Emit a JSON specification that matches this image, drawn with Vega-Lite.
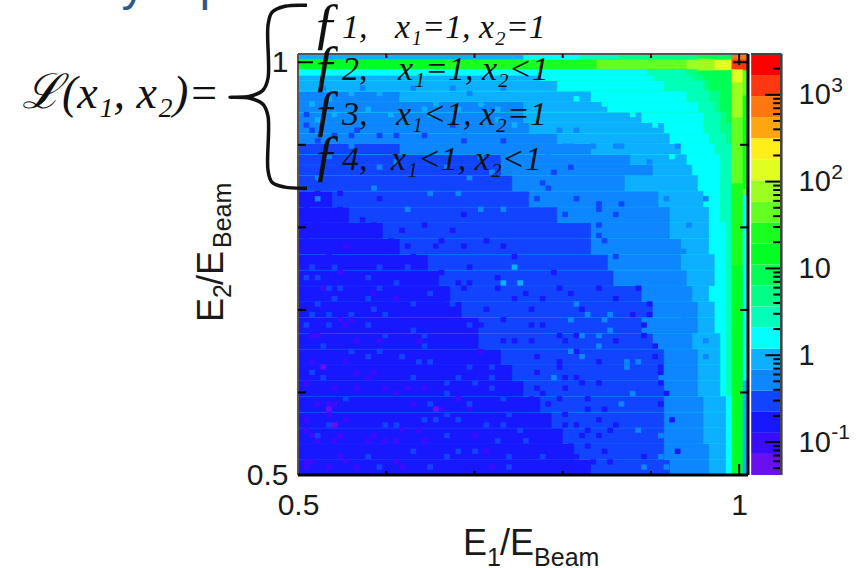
{"$schema":"https://vega.github.io/schema/vega-lite/v6.json","autosize":{"type":"none"},"padding":{"left":298,"top":54,"right":108,"bottom":93},"width":450,"height":421,"background":"white","config":{"axis":{"ticks":false,"domain":false,"grid":false,"labelFont":"Liberation Sans","labelColor":"#1a1a1a"},"view":{"stroke":null}},
"datasets":{
"heat":[
{"b":1.01,"c":0.5,"d":1.01,"v":0.17},
{"b":1.01,"c":0.5,"d":0.615,"v":0.9},{"b":1.01,"c":0.615,"d":0.84,"v":1.6},{"b":1.01,"c":0.84,"d":0.8475,"v":45},{"b":1.01,"c":0.8475,"d":0.96,"v":15},{"b":1.01,"c":0.96,"d":0.9909,"v":45},{"b":1.01,"c":0.9909,"d":1.0036,"v":1274},{"b":1.01,"c":1.0036,"d":1.01,"v":729},
{"b":1.0036,"c":0.5,"d":0.7544,"v":15},{"b":1.0036,"c":0.7544,"d":0.8537,"v":26},{"b":1.0036,"c":0.8537,"d":0.9337,"v":45},{"b":1.0036,"c":0.9337,"d":0.9761,"v":78},{"b":1.0036,"c":0.9761,"d":0.9909,"v":136},
{"b":0.9909,"c":0.5,"d":0.9016,"v":2.7},{"b":0.9909,"c":0.9016,"d":0.9271,"v":4.8},{"b":0.9909,"c":0.9271,"d":0.9909,"v":8.4},{"b":0.9909,"c":0.9909,"d":1.0036,"v":136},{"b":0.9909,"c":1.0036,"d":1.01,"v":8.4},
{"b":0.9718,"c":0.9909,"d":1.0036,"v":78},{"b":0.9399,"c":0.9909,"d":1.0036,"v":45},{"b":0.8379,"c":0.9909,"d":1.0036,"v":26},{"b":0.6658,"c":0.9909,"d":1.0036,"v":15},
{"b":0.9526,"c":1.0036,"d":1.01,"v":4.8},{"b":0.8634,"c":1.0036,"d":1.01,"v":2.7},{"b":0.8188,"c":1.0036,"d":1.01,"v":1.6},{"b":0.755,"c":1.0036,"d":1.01,"v":0.9},
{"b":0.9909,"c":0.5,"d":0.5191,"v":1.6},{"b":0.9845,"c":0.5,"d":0.5191,"v":0.9},{"b":0.9654,"c":0.5,"d":0.5191,"v":0.5},{"b":0.9208,"c":0.5,"d":0.5191,"v":0.29},{"b":0.8315,"c":0.5,"d":0.5191,"v":0.17},
{"b":0.9909,"c":0.5191,"d":0.5383,"v":1.6},{"b":0.9845,"c":0.5191,"d":0.5383,"v":0.9},{"b":0.9654,"c":0.5191,"d":0.5383,"v":0.5},{"b":0.9144,"c":0.5191,"d":0.5383,"v":0.29},{"b":0.8124,"c":0.5191,"d":0.5383,"v":0.17},
{"b":0.9909,"c":0.5383,"d":0.5574,"v":1.6},{"b":0.9845,"c":0.5383,"d":0.5574,"v":0.9},{"b":0.959,"c":0.5383,"d":0.5574,"v":0.5},{"b":0.9144,"c":0.5383,"d":0.5574,"v":0.29},{"b":0.7996,"c":0.5383,"d":0.5574,"v":0.17},
{"b":0.9909,"c":0.5574,"d":0.5765,"v":1.6},{"b":0.9845,"c":0.5574,"d":0.5765,"v":0.9},{"b":0.959,"c":0.5574,"d":0.5765,"v":0.5},{"b":0.9144,"c":0.5574,"d":0.5765,"v":0.29},{"b":0.7869,"c":0.5574,"d":0.5765,"v":0.17},
{"b":0.9909,"c":0.5765,"d":0.5956,"v":1.6},{"b":0.9845,"c":0.5765,"d":0.5956,"v":0.9},{"b":0.959,"c":0.5765,"d":0.5956,"v":0.5},{"b":0.9144,"c":0.5765,"d":0.5956,"v":0.29},{"b":0.7741,"c":0.5765,"d":0.5956,"v":0.17},
{"b":0.9845,"c":0.5956,"d":0.6148,"v":1.6},{"b":0.9781,"c":0.5956,"d":0.6148,"v":0.9},{"b":0.9526,"c":0.5956,"d":0.6148,"v":0.5},{"b":0.9144,"c":0.5956,"d":0.6148,"v":0.29},{"b":0.755,"c":0.5956,"d":0.6148,"v":0.17},
{"b":0.9845,"c":0.6148,"d":0.6339,"v":1.6},{"b":0.9781,"c":0.6148,"d":0.6339,"v":0.9},{"b":0.9526,"c":0.6148,"d":0.6339,"v":0.5},{"b":0.908,"c":0.6148,"d":0.6339,"v":0.29},{"b":0.7423,"c":0.6148,"d":0.6339,"v":0.17},
{"b":0.9845,"c":0.6339,"d":0.653,"v":1.6},{"b":0.9781,"c":0.6339,"d":0.653,"v":0.9},{"b":0.9526,"c":0.6339,"d":0.653,"v":0.5},{"b":0.9144,"c":0.6339,"d":0.653,"v":0.29},{"b":0.7295,"c":0.6339,"d":0.653,"v":0.17},
{"b":0.9845,"c":0.653,"d":0.6721,"v":1.6},{"b":0.9781,"c":0.653,"d":0.6721,"v":0.9},{"b":0.9463,"c":0.653,"d":0.6721,"v":0.5},{"b":0.9016,"c":0.653,"d":0.6721,"v":0.29},{"b":0.704,"c":0.653,"d":0.6721,"v":0.17},
{"b":0.9845,"c":0.6721,"d":0.6913,"v":1.6},{"b":0.9718,"c":0.6721,"d":0.6913,"v":0.9},{"b":0.9526,"c":0.6721,"d":0.6913,"v":0.5},{"b":0.8889,"c":0.6721,"d":0.6913,"v":0.29},{"b":0.704,"c":0.6721,"d":0.6913,"v":0.17},
{"b":0.9845,"c":0.6913,"d":0.7104,"v":1.6},{"b":0.9718,"c":0.6913,"d":0.7104,"v":0.9},{"b":0.9526,"c":0.6913,"d":0.7104,"v":0.5},{"b":0.9016,"c":0.6913,"d":0.7104,"v":0.29},{"b":0.6849,"c":0.6913,"d":0.7104,"v":0.17},
{"b":0.9845,"c":0.7104,"d":0.7295,"v":1.6},{"b":0.9654,"c":0.7104,"d":0.7295,"v":0.9},{"b":0.9463,"c":0.7104,"d":0.7295,"v":0.5},{"b":0.8889,"c":0.7104,"d":0.7295,"v":0.29},{"b":0.6721,"c":0.7104,"d":0.7295,"v":0.17},
{"b":0.9845,"c":0.7295,"d":0.7486,"v":1.6},{"b":0.9718,"c":0.7295,"d":0.7486,"v":0.9},{"b":0.9399,"c":0.7295,"d":0.7486,"v":0.5},{"b":0.857,"c":0.7295,"d":0.7486,"v":0.29},{"b":0.6594,"c":0.7295,"d":0.7486,"v":0.17},
{"b":0.9845,"c":0.7486,"d":0.7678,"v":1.6},{"b":0.9718,"c":0.7486,"d":0.7678,"v":0.9},{"b":0.9335,"c":0.7486,"d":0.7678,"v":0.5},{"b":0.8506,"c":0.7486,"d":0.7678,"v":0.29},{"b":0.6466,"c":0.7486,"d":0.7678,"v":0.17},
{"b":0.9845,"c":0.7678,"d":0.7869,"v":1.6},{"b":0.9654,"c":0.7678,"d":0.7869,"v":0.9},{"b":0.9335,"c":0.7678,"d":0.7869,"v":0.5},{"b":0.8315,"c":0.7678,"d":0.7869,"v":0.29},{"b":0.6148,"c":0.7678,"d":0.7869,"v":0.17},
{"b":0.9845,"c":0.7869,"d":0.806,"v":1.6},{"b":0.9654,"c":0.7869,"d":0.806,"v":0.9},{"b":0.9208,"c":0.7869,"d":0.806,"v":0.5},{"b":0.8315,"c":0.7869,"d":0.806,"v":0.29},{"b":0.5956,"c":0.7869,"d":0.806,"v":0.17},
{"b":0.9781,"c":0.806,"d":0.8251,"v":1.6},{"b":0.9654,"c":0.806,"d":0.8251,"v":0.9},{"b":0.9208,"c":0.806,"d":0.8251,"v":0.5},{"b":0.7933,"c":0.806,"d":0.8251,"v":0.29},{"b":0.5574,"c":0.806,"d":0.8251,"v":0.17},
{"b":0.9781,"c":0.8251,"d":0.8443,"v":1.6},{"b":0.959,"c":0.8251,"d":0.8443,"v":0.9},{"b":0.908,"c":0.8251,"d":0.8443,"v":0.5},{"b":0.7614,"c":0.8251,"d":0.8443,"v":0.29},{"b":0.5383,"c":0.8251,"d":0.8443,"v":0.17},
{"b":0.9781,"c":0.8443,"d":0.8634,"v":1.6},{"b":0.9526,"c":0.8443,"d":0.8634,"v":0.9},{"b":0.8698,"c":0.8443,"d":0.8634,"v":0.5},{"b":0.7423,"c":0.8443,"d":0.8634,"v":0.29},
{"b":0.9781,"c":0.8634,"d":0.8761,"v":1.6},{"b":0.9463,"c":0.8634,"d":0.8761,"v":0.9},{"b":0.9016,"c":0.8634,"d":0.8761,"v":0.5},{"b":0.7295,"c":0.8634,"d":0.8761,"v":0.29},
{"b":0.9781,"c":0.8761,"d":0.8889,"v":1.6},{"b":0.9399,"c":0.8761,"d":0.8889,"v":0.9},{"b":0.8761,"c":0.8761,"d":0.8889,"v":0.5},{"b":0.7295,"c":0.8761,"d":0.8889,"v":0.29},
{"b":0.9845,"c":0.8889,"d":0.9016,"v":2.7},{"b":0.9718,"c":0.8889,"d":0.9016,"v":1.6},{"b":0.9335,"c":0.8889,"d":0.9016,"v":0.9},{"b":0.8315,"c":0.8889,"d":0.9016,"v":0.5},{"b":0.6148,"c":0.8889,"d":0.9016,"v":0.29},
{"b":0.9845,"c":0.9016,"d":0.9144,"v":2.7},{"b":0.9654,"c":0.9016,"d":0.9144,"v":1.6},{"b":0.9208,"c":0.9016,"d":0.9144,"v":0.9},{"b":0.7933,"c":0.9016,"d":0.9144,"v":0.5},
{"b":0.9781,"c":0.9144,"d":0.9271,"v":2.7},{"b":0.959,"c":0.9144,"d":0.9271,"v":1.6},{"b":0.9144,"c":0.9144,"d":0.9271,"v":0.9},{"b":0.7614,"c":0.9144,"d":0.9271,"v":0.5},
{"b":0.9845,"c":0.9271,"d":0.9399,"v":4.8},{"b":0.9781,"c":0.9271,"d":0.9399,"v":2.7},{"b":0.959,"c":0.9271,"d":0.9399,"v":1.6},{"b":0.8889,"c":0.9271,"d":0.9399,"v":0.9},{"b":0.755,"c":0.9271,"d":0.9399,"v":0.5},
{"b":0.9781,"c":0.9399,"d":0.9526,"v":4.8},{"b":0.9718,"c":0.9399,"d":0.9526,"v":2.7},{"b":0.9526,"c":0.9399,"d":0.9526,"v":1.6},{"b":0.8506,"c":0.9399,"d":0.9526,"v":0.9},{"b":0.755,"c":0.9399,"d":0.9526,"v":0.5},
{"b":0.9781,"c":0.9526,"d":0.9654,"v":4.8},{"b":0.9654,"c":0.9526,"d":0.9654,"v":2.7},{"b":0.9399,"c":0.9526,"d":0.9654,"v":1.6},{"b":0.8315,"c":0.9526,"d":0.9654,"v":0.9},{"b":0.6148,"c":0.9526,"d":0.9654,"v":0.5},
{"b":0.9654,"c":0.9654,"d":0.9781,"v":4.8},{"b":0.959,"c":0.9654,"d":0.9781,"v":2.7},{"b":0.9144,"c":0.9654,"d":0.9781,"v":1.6},{"b":0.7933,"c":0.9654,"d":0.9781,"v":0.9},
{"b":0.959,"c":0.9781,"d":0.9845,"v":4.8},{"b":0.9463,"c":0.9781,"d":0.9845,"v":2.7},{"b":0.9016,"c":0.9781,"d":0.9845,"v":1.6},{"b":0.7741,"c":0.9781,"d":0.9845,"v":0.9},
{"b":0.9526,"c":0.9845,"d":0.9909,"v":4.8},{"b":0.9399,"c":0.9845,"d":0.9909,"v":2.7},{"b":0.8953,"c":0.9845,"d":0.9909,"v":1.6}
],
"cells":[
{"x":0.5096,"y":0.5159,"v":0.1},{"x":0.5096,"y":0.5096,"v":0.1},{"x":0.5159,"y":0.5159,"v":0.1},{"x":0.5351,"y":0.5096,"v":0.1},{"x":0.5478,"y":0.5223,"v":0.1},{"x":0.5542,"y":0.5159,"v":0.1},{"x":0.5669,"y":0.5096,"v":0.1},{"x":0.6116,"y":0.5159,"v":0.1},{"x":0.6179,"y":0.5096,"v":0.1},{"x":0.5797,"y":0.5414,"v":0.1},{"x":0.5861,"y":0.5478,"v":0.1},{"x":0.5988,"y":0.5414,"v":0.1},{"x":0.6116,"y":0.5414,"v":0.1},{"x":0.6179,"y":0.5542,"v":0.1},{"x":0.6371,"y":0.5542,"v":0.1},{"x":0.6434,"y":0.5414,"v":0.1},{"x":0.5096,"y":0.5542,"v":0.1},{"x":0.5159,"y":0.5478,"v":0.1},{"x":0.5223,"y":0.5414,"v":0.1},{"x":0.5414,"y":0.5414,"v":0.1},{"x":0.5478,"y":0.5478,"v":0.1},{"x":0.5223,"y":0.5861,"v":0.1},{"x":0.5351,"y":0.5861,"v":0.1},{"x":0.5414,"y":0.5861,"v":0.1},{"x":0.5096,"y":0.5669,"v":0.1},{"x":0.5351,"y":0.5733,"v":0.1},{"x":0.5542,"y":0.5669,"v":0.1},{"x":0.5414,"y":0.6052,"v":0.1},{"x":0.5669,"y":0.6052,"v":0.1},{"x":0.5797,"y":0.6179,"v":0.1},{"x":0.5988,"y":0.6052,"v":0.1},{"x":0.6116,"y":0.5988,"v":0.1},{"x":0.6243,"y":0.6052,"v":0.1},{"x":0.6434,"y":0.6052,"v":0.1},{"x":0.5159,"y":0.6371,"v":0.1},{"x":0.5096,"y":0.6116,"v":0.1},{"x":0.5542,"y":0.6371,"v":0.1},{"x":0.5669,"y":0.6243,"v":0.1},{"x":0.5861,"y":0.6243,"v":0.1},{"x":0.5606,"y":0.6881,"v":0.1},{"x":0.5542,"y":0.6817,"v":0.1},{"x":0.5478,"y":0.6881,"v":0.1},{"x":0.5159,"y":0.6689,"v":0.1},{"x":0.5223,"y":0.6689,"v":0.1},{"x":0.5669,"y":0.6626,"v":0.1},{"x":0.5924,"y":0.6626,"v":0.1},{"x":0.6371,"y":0.6626,"v":0.1},{"x":0.6116,"y":0.7136,"v":0.1},{"x":0.5478,"y":0.7454,"v":0.1},{"x":0.5861,"y":0.7199,"v":0.1},{"x":0.5287,"y":0.7263,"v":0.1},{"x":0.7072,"y":0.6498,"v":0.1},{"x":0.6307,"y":0.5861,"v":0.1},{"x":0.6626,"y":0.5797,"v":0.1},{"x":0.6944,"y":0.5797,"v":0.1},{"x":0.6817,"y":0.5924,"v":0.1},{"x":0.7008,"y":0.5478,"v":0.1},{"x":0.7136,"y":0.5287,"v":0.1},{"x":0.7199,"y":0.5096,"v":0.1},{"x":0.5542,"y":0.7773,"v":0.1},
{"x":0.5351,"y":0.5797,"v":0.055},{"x":0.5414,"y":0.5606,"v":0.055},{"x":0.6562,"y":0.5797,"v":0.055},{"x":0.5287,"y":0.6307,"v":0.055},
{"x":0.5159,"y":0.7518,"v":0.29},{"x":0.5414,"y":0.7518,"v":0.29},{"x":0.5924,"y":0.7518,"v":0.29},{"x":0.6243,"y":0.7518,"v":0.29},{"x":0.5096,"y":0.7391,"v":0.29},{"x":0.5223,"y":0.7391,"v":0.29},{"x":0.5797,"y":0.7391,"v":0.29},{"x":0.6116,"y":0.7327,"v":0.29},{"x":0.5351,"y":0.7263,"v":0.29},{"x":0.5478,"y":0.7263,"v":0.29},{"x":0.5924,"y":0.7263,"v":0.29},{"x":0.6498,"y":0.7199,"v":0.29},{"x":0.5797,"y":0.7136,"v":0.29},{"x":0.5414,"y":0.7136,"v":0.29},{"x":0.5223,"y":0.7072,"v":0.29},{"x":0.6307,"y":0.7072,"v":0.29},{"x":0.5861,"y":0.7008,"v":0.29},{"x":0.5159,"y":0.6944,"v":0.29},{"x":0.5351,"y":0.6944,"v":0.29},{"x":0.5606,"y":0.6944,"v":0.29},{"x":0.5988,"y":0.6944,"v":0.29},{"x":0.5096,"y":0.6817,"v":0.29},{"x":0.5351,"y":0.6817,"v":0.29},{"x":0.5797,"y":0.6817,"v":0.29},{"x":0.6307,"y":0.6753,"v":0.29},{"x":0.6434,"y":0.6689,"v":0.29},{"x":0.6434,"y":0.6562,"v":0.29},{"x":0.5924,"y":0.6498,"v":0.29},{"x":0.5797,"y":0.6434,"v":0.29},{"x":0.6179,"y":0.6434,"v":0.29},{"x":0.6371,"y":0.6371,"v":0.29},{"x":0.6498,"y":0.6371,"v":0.29},{"x":0.5159,"y":0.6243,"v":0.29},{"x":0.6307,"y":0.6179,"v":0.29},{"x":0.5287,"y":0.6179,"v":0.29},{"x":0.6689,"y":0.6116,"v":0.29},{"x":0.6817,"y":0.6179,"v":0.29},{"x":0.6689,"y":0.5988,"v":0.29},{"x":0.7008,"y":0.6116,"v":0.29},{"x":0.7199,"y":0.6179,"v":0.29},{"x":0.6498,"y":0.5861,"v":0.29},{"x":0.6689,"y":0.5733,"v":0.29},{"x":0.6944,"y":0.5861,"v":0.29},{"x":0.6434,"y":0.5669,"v":0.29},{"x":0.6562,"y":0.5669,"v":0.29},{"x":0.6817,"y":0.5669,"v":0.29},{"x":0.6116,"y":0.5606,"v":0.29},{"x":0.5223,"y":0.5478,"v":0.29},{"x":0.6689,"y":0.5478,"v":0.29},{"x":0.6817,"y":0.5287,"v":0.29},{"x":0.7008,"y":0.5287,"v":0.29},{"x":0.5924,"y":0.5096,"v":0.29},{"x":0.6498,"y":0.5096,"v":0.29},{"x":0.7391,"y":0.5096,"v":0.29},{"x":0.6944,"y":0.6307,"v":0.29},{"x":0.7199,"y":0.6307,"v":0.29},{"x":0.7199,"y":0.6052,"v":0.29},{"x":0.7327,"y":0.5924,"v":0.29},{"x":0.7391,"y":0.5733,"v":0.29},{"x":0.7518,"y":0.5542,"v":0.29},{"x":0.7327,"y":0.5606,"v":0.29},
{"x":0.6881,"y":0.7263,"v":0.17},{"x":0.6944,"y":0.7327,"v":0.17},{"x":0.6817,"y":0.7327,"v":0.17},{"x":0.7263,"y":0.7391,"v":0.17},{"x":0.6626,"y":0.7454,"v":0.17},{"x":0.7454,"y":0.7136,"v":0.17},{"x":0.6753,"y":0.6753,"v":0.17},{"x":0.6944,"y":0.6626,"v":0.17},{"x":0.7072,"y":0.6817,"v":0.17},{"x":0.7327,"y":0.6626,"v":0.17},{"x":0.7454,"y":0.6626,"v":0.17},{"x":0.6626,"y":0.7072,"v":0.17},{"x":0.7964,"y":0.7263,"v":0.17},{"x":0.7646,"y":0.6817,"v":0.17},{"x":0.7773,"y":0.6817,"v":0.17},{"x":0.7964,"y":0.6689,"v":0.17},{"x":0.8156,"y":0.6689,"v":0.17},{"x":0.7646,"y":0.6626,"v":0.17},{"x":0.8028,"y":0.6626,"v":0.17},{"x":0.8602,"y":0.6626,"v":0.17},{"x":0.8156,"y":0.6498,"v":0.17},{"x":0.7709,"y":0.6434,"v":0.17},{"x":0.8411,"y":0.6371,"v":0.17},{"x":0.7964,"y":0.6371,"v":0.17},{"x":0.7709,"y":0.6243,"v":0.17},{"x":0.7964,"y":0.6307,"v":0.17},{"x":0.8028,"y":0.6179,"v":0.17},{"x":0.8156,"y":0.6179,"v":0.17},{"x":0.8219,"y":0.6116,"v":0.17},{"x":0.8411,"y":0.6116,"v":0.17},{"x":0.7709,"y":0.6052,"v":0.17},{"x":0.8028,"y":0.6052,"v":0.17},{"x":0.7773,"y":0.5988,"v":0.17},{"x":0.7646,"y":0.5924,"v":0.17},{"x":0.7964,"y":0.5924,"v":0.17},{"x":0.8283,"y":0.5924,"v":0.17},{"x":0.7837,"y":0.5861,"v":0.17},{"x":0.7646,"y":0.5797,"v":0.17},{"x":0.8028,"y":0.5733,"v":0.17},{"x":0.8283,"y":0.5797,"v":0.17},{"x":0.8474,"y":0.5797,"v":0.17},{"x":0.8411,"y":0.5669,"v":0.17},{"x":0.7773,"y":0.5669,"v":0.17},{"x":0.8028,"y":0.5606,"v":0.17},{"x":0.8156,"y":0.5606,"v":0.17},{"x":0.8283,"y":0.5542,"v":0.17},{"x":0.8538,"y":0.5542,"v":0.17},{"x":0.8602,"y":0.5606,"v":0.17},{"x":0.8411,"y":0.5478,"v":0.17},{"x":0.8219,"y":0.5478,"v":0.17},{"x":0.8092,"y":0.5351,"v":0.17},{"x":0.8283,"y":0.5351,"v":0.17},{"x":0.8474,"y":0.5287,"v":0.17},{"x":0.8921,"y":0.5223,"v":0.17},{"x":0.8538,"y":0.5159,"v":0.17},{"x":0.8156,"y":0.5223,"v":0.17},{"x":0.8347,"y":0.5159,"v":0.17},{"x":0.8984,"y":0.7072,"v":0.17},{"x":0.8984,"y":0.6944,"v":0.17},{"x":0.8793,"y":0.6944,"v":0.17},{"x":0.8921,"y":0.6817,"v":0.17},{"x":0.8921,"y":0.6689,"v":0.17},{"x":0.9048,"y":0.6562,"v":0.17},{"x":0.9048,"y":0.6434,"v":0.17},{"x":0.9112,"y":0.6307,"v":0.17},{"x":0.9112,"y":0.6243,"v":0.17},{"x":0.9112,"y":0.6116,"v":0.17},{"x":0.9176,"y":0.5988,"v":0.17},{"x":0.9112,"y":0.5861,"v":0.17},{"x":0.9239,"y":0.5669,"v":0.17},{"x":0.9303,"y":0.5287,"v":0.17},
{"x":0.8092,"y":0.6498,"v":0.5},{"x":0.8219,"y":0.6434,"v":0.5},{"x":0.8729,"y":0.6307,"v":0.5},{"x":0.8857,"y":0.6371,"v":0.5},{"x":0.8729,"y":0.6371,"v":0.5},{"x":0.8793,"y":0.5988,"v":0.5},{"x":0.8666,"y":0.5861,"v":0.5},{"x":0.8156,"y":0.7072,"v":0.5},{"x":0.8283,"y":0.6944,"v":0.5},{"x":0.8538,"y":0.6944,"v":0.5},{"x":0.8474,"y":0.6881,"v":0.5},{"x":0.8092,"y":0.6881,"v":0.5},{"x":0.8538,"y":0.6753,"v":0.5},{"x":0.8219,"y":0.6689,"v":0.5},{"x":0.8411,"y":0.6689,"v":0.5},{"x":0.8411,"y":0.6562,"v":0.5},{"x":0.8857,"y":0.5542,"v":0.5},{"x":0.9112,"y":0.5478,"v":0.5},{"x":0.8921,"y":0.5096,"v":0.5},{"x":0.9176,"y":0.5096,"v":0.5},{"x":0.9112,"y":0.5223,"v":0.5},{"x":0.7901,"y":0.6179,"v":0.5},{"x":0.7327,"y":0.7327,"v":0.9},{"x":0.7518,"y":0.7327,"v":0.9},{"x":0.7454,"y":0.7518,"v":0.9},
{"x":0.9431,"y":0.6753,"v":0.5},{"x":0.9367,"y":0.6881,"v":0.5},{"x":0.9431,"y":0.6944,"v":0.5},{"x":0.9622,"y":0.6626,"v":0.5},{"x":0.9622,"y":0.6434,"v":0.5},{"x":0.8156,"y":0.9558,"v":1.6},{"x":0.8474,"y":0.9494,"v":1.6},{"x":0.8538,"y":0.9431,"v":1.6},{"x":0.8793,"y":0.9367,"v":1.6},{"x":0.9048,"y":0.9239,"v":1.6},{"x":0.9239,"y":0.8857,"v":1.6},
{"x":0.8602,"y":0.8984,"v":0.5},{"x":0.8666,"y":0.8984,"v":0.5},{"x":0.8984,"y":0.8793,"v":0.5},{"x":0.8156,"y":0.9176,"v":0.5},{"x":0.7964,"y":0.9176,"v":0.5},{"x":0.8347,"y":0.8984,"v":0.5},{"x":0.8092,"y":0.8984,"v":0.5},{"x":0.9303,"y":0.8984,"v":0.5},
{"x":0.8156,"y":0.8347,"v":0.29},{"x":0.8411,"y":0.8283,"v":0.29},{"x":0.8411,"y":0.8219,"v":0.29},{"x":0.8666,"y":0.8283,"v":0.29},{"x":0.8602,"y":0.8156,"v":0.29},{"x":0.8411,"y":0.8028,"v":0.29},{"x":0.8411,"y":0.7901,"v":0.29},{"x":0.8474,"y":0.7837,"v":0.29},{"x":0.7837,"y":0.8474,"v":0.29},{"x":0.7773,"y":0.8538,"v":0.29},{"x":0.7709,"y":0.8347,"v":0.29},{"x":0.8028,"y":0.8156,"v":0.29},{"x":0.8602,"y":0.7646,"v":0.29},{"x":0.9622,"y":0.8347,"v":0.5},{"x":0.9431,"y":0.8028,"v":0.5},{"x":0.9367,"y":0.7709,"v":0.5},{"x":0.9176,"y":0.8347,"v":0.5},
{"x":0.5096,"y":0.9239,"v":0.29},{"x":0.5159,"y":0.9176,"v":0.29},{"x":0.6116,"y":0.9112,"v":0.29},{"x":0.5669,"y":0.9176,"v":0.29},{"x":0.6881,"y":0.9048,"v":0.29},{"x":0.5096,"y":0.9367,"v":0.29},{"x":0.5924,"y":0.9112,"v":0.29},{"x":0.5414,"y":0.9112,"v":0.29},
{"x":0.5351,"y":0.9558,"v":0.9},{"x":0.5924,"y":0.9622,"v":0.9},{"x":0.6689,"y":0.9558,"v":0.9},{"x":0.6944,"y":0.9558,"v":0.9},{"x":0.5223,"y":0.9303,"v":0.9},{"x":0.6498,"y":0.9367,"v":0.9},{"x":0.7263,"y":0.9431,"v":0.9},{"x":0.7072,"y":0.9494,"v":0.9},
{"x":0.5733,"y":0.9048,"v":0.5},{"x":0.6498,"y":0.8984,"v":0.5},{"x":0.7072,"y":0.8857,"v":0.5},{"x":0.6307,"y":0.8984,"v":0.5},{"x":0.5478,"y":0.9048,"v":0.5},{"x":0.7327,"y":0.8857,"v":0.5},{"x":0.6881,"y":0.9112,"v":0.5},{"x":0.5861,"y":0.8474,"v":0.5},{"x":0.6498,"y":0.8411,"v":0.5},{"x":0.6817,"y":0.8411,"v":0.5},{"x":0.5223,"y":0.8347,"v":0.5},{"x":0.6243,"y":0.8219,"v":0.5},{"x":0.7072,"y":0.8219,"v":0.5},{"x":0.7327,"y":0.8219,"v":0.5},{"x":0.5223,"y":0.8602,"v":0.5},
{"x":0.5223,"y":0.8411,"v":0.17},{"x":0.5478,"y":0.8411,"v":0.17},{"x":0.5924,"y":0.8347,"v":0.17},{"x":0.5096,"y":0.8219,"v":0.17},{"x":0.5478,"y":0.8219,"v":0.17},{"x":0.5223,"y":0.8028,"v":0.17},{"x":0.5861,"y":0.8028,"v":0.17},{"x":0.6434,"y":0.8028,"v":0.17},{"x":0.5096,"y":0.7837,"v":0.17},{"x":0.6243,"y":0.7773,"v":0.17},{"x":0.6626,"y":0.7837,"v":0.17},{"x":0.6052,"y":0.7837,"v":0.17},{"x":0.6881,"y":0.7773,"v":0.17},{"x":0.7327,"y":0.7773,"v":0.17},{"x":0.5733,"y":0.8092,"v":0.17},{"x":0.6881,"y":0.8156,"v":0.17},
{"x":0.5159,"y":0.9494,"v":0.9},{"x":0.5606,"y":0.9622,"v":0.9},{"x":0.6179,"y":0.9558,"v":0.9},{"x":0.6562,"y":0.9494,"v":0.9},{"x":0.6817,"y":0.9431,"v":0.9},{"x":0.7136,"y":0.9558,"v":0.9},{"x":0.5797,"y":0.9431,"v":0.9},{"x":0.7391,"y":0.9558,"v":0.9},{"x":0.5414,"y":0.9367,"v":0.9},{"x":0.6052,"y":0.9367,"v":0.9},{"x":0.6434,"y":0.9431,"v":0.9},{"x":0.7263,"y":0.9303,"v":0.9},{"x":0.7454,"y":0.9239,"v":0.9},
{"x":0.5733,"y":0.9686,"v":0.5},{"x":0.6307,"y":0.9686,"v":0.5},{"x":0.6944,"y":0.9622,"v":0.5},{"x":0.7327,"y":0.9686,"v":0.5},{"x":0.6753,"y":0.9686,"v":0.5},{"x":0.5287,"y":0.9686,"v":0.5},
{"x":0.5351,"y":0.8857,"v":0.5},{"x":0.5924,"y":0.8729,"v":0.5},{"x":0.6689,"y":0.8729,"v":0.5},{"x":0.7199,"y":0.8666,"v":0.5},{"x":0.5606,"y":0.8984,"v":0.5},{"x":0.6116,"y":0.8793,"v":0.5},{"x":0.6944,"y":0.8602,"v":0.5},{"x":0.7454,"y":0.8857,"v":0.5},{"x":0.7646,"y":0.8729,"v":0.5},{"x":0.7837,"y":0.8857,"v":0.5},{"x":0.8028,"y":0.8984,"v":0.5},
{"x":0.5223,"y":0.9048,"v":0.29},{"x":0.6434,"y":0.9112,"v":0.29},{"x":0.7327,"y":0.9048,"v":0.29},{"x":0.5606,"y":0.9112,"v":0.29},{"x":0.6753,"y":0.9239,"v":0.29},{"x":0.7901,"y":0.8666,"v":0.29},{"x":0.8092,"y":0.8729,"v":0.29},
{"x":0.5351,"y":0.7646,"v":0.17},{"x":0.5669,"y":0.7901,"v":0.17},{"x":0.6179,"y":0.7964,"v":0.17},{"x":0.6562,"y":0.7773,"v":0.17},{"x":0.6753,"y":0.7964,"v":0.17},{"x":0.7136,"y":0.7837,"v":0.17},{"x":0.7454,"y":0.7646,"v":0.17},{"x":0.5797,"y":0.7709,"v":0.17},{"x":0.6307,"y":0.7646,"v":0.17},{"x":0.6944,"y":0.7518,"v":0.17},{"x":0.7263,"y":0.7263,"v":0.17},{"x":0.7582,"y":0.7199,"v":0.17},{"x":0.7136,"y":0.7008,"v":0.17},{"x":0.7327,"y":0.6881,"v":0.17},{"x":0.7646,"y":0.7008,"v":0.17},{"x":0.7773,"y":0.7136,"v":0.17},{"x":0.7901,"y":0.7454,"v":0.17},{"x":0.8092,"y":0.7199,"v":0.17},{"x":0.8219,"y":0.7008,"v":0.17},{"x":0.8411,"y":0.7263,"v":0.17},{"x":0.8602,"y":0.7136,"v":0.17},{"x":0.8857,"y":0.7263,"v":0.17},
{"x":0.5287,"y":0.6562,"v":0.29},{"x":0.5542,"y":0.5924,"v":0.29},{"x":0.5988,"y":0.5606,"v":0.29},{"x":0.5797,"y":0.5223,"v":0.29},{"x":0.6307,"y":0.5287,"v":0.29},{"x":0.6689,"y":0.5223,"v":0.29},{"x":0.7136,"y":0.5606,"v":0.29},{"x":0.7263,"y":0.5414,"v":0.29},{"x":0.7391,"y":0.5223,"v":0.29},{"x":0.7582,"y":0.5414,"v":0.29},{"x":0.7773,"y":0.5223,"v":0.29},{"x":0.6944,"y":0.6817,"v":0.29},{"x":0.6753,"y":0.7072,"v":0.29},{"x":0.5988,"y":0.6689,"v":0.29},{"x":0.5606,"y":0.6498,"v":0.29},{"x":0.5351,"y":0.5606,"v":0.29}
],
"ticks":[
{"x":0.6,"x2":0.6,"y":0.5,"y2":0.5048},{"x":0.7,"x2":0.7,"y":0.5,"y2":0.5048},{"x":0.8,"x2":0.8,"y":0.5,"y2":0.5048},{"x":0.9,"x2":0.9,"y":0.5,"y2":0.5048},{"x":1,"x2":1,"y":0.5,"y2":0.5133},
{"x":0.6,"x2":0.6,"y":1.01,"y2":1.0052},{"x":0.7,"x2":0.7,"y":1.01,"y2":1.0052},{"x":0.8,"x2":0.8,"y":1.01,"y2":1.0052},{"x":0.9,"x2":0.9,"y":1.01,"y2":1.0052},{"x":1,"x2":1,"y":1.01,"y2":0.9967},
{"x":0.5,"x2":0.5091,"y":0.6,"y2":0.6},{"x":0.5,"x2":0.5091,"y":0.7,"y2":0.7},{"x":0.5,"x2":0.5091,"y":0.8,"y2":0.8},{"x":0.5,"x2":0.5091,"y":0.9,"y2":0.9},{"x":0.5,"x2":0.517,"y":1,"y2":1},
{"x":1.01,"x2":1.0009,"y":0.6,"y2":0.6},{"x":1.01,"x2":1.0009,"y":0.7,"y2":0.7},{"x":1.01,"x2":1.0009,"y":0.8,"y2":0.8},{"x":1.01,"x2":1.0009,"y":0.9,"y2":0.9},{"x":1.01,"x2":0.9935,"y":1,"y2":1}
],
"frame":[{"x":0.5,"x2":1.01,"y":0.5,"y2":0.5},{"x":1.01,"x2":1.01,"y":0.5,"y2":1.01}],
"frame2":[{"x":0.5,"x2":0.5,"y":0.5,"y2":1.01},{"x":0.5,"x2":1.01,"y":1.01,"y2":1.01}],
"brace":[{"o":1,"x":0.5102,"y":1.069},{"o":2,"x":0.4853,"y":1.0678},{"o":3,"x":0.4705,"y":1.0605},{"o":4,"x":0.466,"y":1.0448},{"o":5,"x":0.466,"y":0.9806},{"o":6,"x":0.4603,"y":0.9661},{"o":7,"x":0.4456,"y":0.9588},{"o":8,"x":0.4229,"y":0.9576},{"o":9,"x":0.4456,"y":0.9564},{"o":10,"x":0.4603,"y":0.9492},{"o":11,"x":0.466,"y":0.9346},{"o":12,"x":0.466,"y":0.8692},{"o":13,"x":0.4705,"y":0.8547},{"o":14,"x":0.4853,"y":0.8487},{"o":15,"x":0.5102,"y":0.8475}],
"bigf":[{"t":"ƒ","x":0.5159,"y":1.0243},{"t":"ƒ","x":0.5159,"y":0.9734},{"t":"ƒ","x":0.5159,"y":0.9189},{"t":"ƒ","x":0.5159,"y":0.8644}],
"eq":[{"t":"1,","x":0.5499,"y":1.0291},{"t":"x₁=1, x₂=1","x":0.61,"y":1.0291},{"t":"2,","x":0.5499,"y":0.9782},{"t":"x₁=1, x₂<1","x":0.6134,"y":0.9782},{"t":"3,","x":0.5499,"y":0.9237},{"t":"x₁<1, x₂=1","x":0.6111,"y":0.9237},{"t":"4,","x":0.5499,"y":0.8692},{"t":"x₁<1, x₂<1","x":0.6054,"y":0.8692}],
"lhs":[{"t":"(x₁, x₂)=","x":0.2324,"y":0.9443}],
"lsym":[{"t":"ℒ","x":0.1871,"y":0.9443}],
"slide":[{"t":"y","x":0.3,"y":1.0754},{"t":"p","x":0.3885,"y":1.0754}],
"titleB":[{"t":"E","x":0.6871,"y":0.4031},{"t":"/E","x":0.729,"y":0.4031}],
"titleS":[{"t":"1","x":0.7143,"y":0.3898},{"t":"Beam","x":0.7676,"y":0.3898}],
"titleBR":[{"t":"E","x":0.415,"y":0.6853},{"t":"/E","x":0.415,"y":0.7302}],
"titleSR":[{"t":"2","x":0.424,"y":0.7144},{"t":"Beam","x":0.424,"y":0.775}],
"bar":[{"lo":0.0417,"hi":0.0729,"v":0.055},{"lo":0.0729,"hi":0.1274,"v":0.1},{"lo":0.1274,"hi":0.2226,"v":0.17},{"lo":0.2226,"hi":0.389,"v":0.29},{"lo":0.389,"hi":0.68,"v":0.5},{"lo":0.68,"hi":1.189,"v":0.9},{"lo":1.189,"hi":2.077,"v":1.6},{"lo":2.077,"hi":3.63,"v":2.7},{"lo":3.63,"hi":6.35,"v":4.8},{"lo":6.35,"hi":11.1,"v":8.4},{"lo":11.1,"hi":19.4,"v":15},{"lo":19.4,"hi":33.9,"v":26},{"lo":33.9,"hi":59.2,"v":45},{"lo":59.2,"hi":103.5,"v":78},{"lo":103.5,"hi":181,"v":136},{"lo":181,"hi":316,"v":238},{"lo":316,"hi":553,"v":417},{"lo":553,"hi":966,"v":729},{"lo":966,"hi":1689,"v":1274},{"lo":1689,"hi":2951,"v":2226}],
"minor":[{"t":0.05},{"t":0.06},{"t":0.07},{"t":0.08},{"t":0.09},{"t":0.2},{"t":0.3},{"t":0.4},{"t":0.5},{"t":0.6},{"t":0.7},{"t":0.8},{"t":0.9},{"t":2},{"t":3},{"t":4},{"t":5},{"t":6},{"t":7},{"t":8},{"t":9},{"t":20},{"t":30},{"t":40},{"t":50},{"t":60},{"t":70},{"t":80},{"t":90},{"t":200},{"t":300},{"t":400},{"t":500},{"t":600},{"t":700},{"t":800},{"t":900},{"t":2000}],
"major":[{"t":0.1},{"t":1},{"t":10},{"t":100},{"t":1000}],
"expo":[{"e":"-1","t":0.1},{"e":"2","t":100},{"e":"3","t":1000}]
},
"resolve":{"scale":{"y":"independent"}},
"layer":[
{"data":{"name":"heat"},"mark":{"type":"rect","strokeWidth":0.7},"encoding":{
"x":{"field":"b","type":"quantitative","scale":{"domain":[0.5,1.01],"nice":false,"zero":false},"axis":{"title":null,"values":[0.5,1],"labelExpr":"datum.value==1?'1':'0.5'","labelFontSize":30,"labelPadding":15,"orient":"bottom","labelFlush":false}},
"x2":{"datum":0.5},
"y":{"field":"c","type":"quantitative","scale":{"domain":[0.5,1.01],"nice":false,"zero":false},"axis":{"title":null,"values":[0.5,1],"labelExpr":"datum.value==1?'1':'0.5'","labelFontSize":30,"labelPadding":10,"orient":"left"}},
"y2":{"field":"d"},
"stroke":{"field":"v","type":"quantitative","legend":null,"scale":{"type":"threshold","domain":[0.0729,0.1274,0.2226,0.389,0.68,1.189,2.077,3.63,6.35,11.1,19.4,33.9,59.2,103.5,181,316,553,966,1689],"range":["#6a10ee","#3c0cff","#1818ff","#1244ff","#0d86ff","#0cb0ff","#00ffff","#00ffb8","#00ff88","#00ff55","#00ff22","#1aff1f","#62ff20","#9cff20","#e0ff20","#ffee1a","#ffa510","#ff7710","#ff3810","#ff0000"]}},
"color":{"field":"v","type":"quantitative","legend":null,"scale":{"type":"threshold","domain":[0.0729,0.1274,0.2226,0.389,0.68,1.189,2.077,3.63,6.35,11.1,19.4,33.9,59.2,103.5,181,316,553,966,1689],"range":["#6a10ee","#3c0cff","#1818ff","#1244ff","#0d86ff","#0cb0ff","#00ffff","#00ffb8","#00ff88","#00ff55","#00ff22","#1aff1f","#62ff20","#9cff20","#e0ff20","#ffee1a","#ffa510","#ff7710","#ff3810","#ff0000"]}}}},
{"data":{"name":"cells"},"mark":{"type":"rect","width":5.7,"height":5.3},"encoding":{"x":{"field":"x","type":"quantitative"},"y":{"field":"y","type":"quantitative","axis":null,"scale":{"domain":[0.5,1.01],"nice":false,"zero":false}},"color":{"field":"v","type":"quantitative","legend":null,"scale":{"type":"threshold","domain":[0.0729,0.1274,0.2226,0.389,0.68,1.189,2.077,3.63,6.35,11.1,19.4,33.9,59.2,103.5,181,316,553,966,1689],"range":["#6a10ee","#3c0cff","#1818ff","#1244ff","#0d86ff","#0cb0ff","#00ffff","#00ffb8","#00ff88","#00ff55","#00ff22","#1aff1f","#62ff20","#9cff20","#e0ff20","#ffee1a","#ffa510","#ff7710","#ff3810","#ff0000"]}}}},
{"data":{"name":"frame2"},"mark":{"type":"rule","color":"#555555","strokeWidth":2},"encoding":{"x":{"field":"x","type":"quantitative"},"x2":{"field":"x2"},"y":{"field":"y","type":"quantitative","axis":null,"scale":{"domain":[0.5,1.01],"nice":false,"zero":false}},"y2":{"field":"y2"}}},
{"data":{"name":"frame"},"mark":{"type":"rule","color":"#000000","strokeWidth":3},"encoding":{"x":{"field":"x","type":"quantitative"},"x2":{"field":"x2"},"y":{"field":"y","type":"quantitative","axis":null,"scale":{"domain":[0.5,1.01],"nice":false,"zero":false}},"y2":{"field":"y2"}}},
{"data":{"name":"ticks"},"mark":{"type":"rule","color":"#000000","strokeWidth":2},"encoding":{"x":{"field":"x","type":"quantitative"},"x2":{"field":"x2"},"y":{"field":"y","type":"quantitative","axis":null,"scale":{"domain":[0.5,1.01],"nice":false,"zero":false}},"y2":{"field":"y2"}}},
{"data":{"name":"brace"},"mark":{"type":"line","color":"#111111","strokeWidth":3.5,"interpolate":"catmull-rom"},"encoding":{"x":{"field":"x","type":"quantitative"},"y":{"field":"y","type":"quantitative","axis":null,"scale":{"domain":[0.5,1.01],"nice":false,"zero":false}},"order":{"field":"o","type":"quantitative"}}},
{"data":{"name":"bigf"},"mark":{"type":"text","font":"Liberation Serif","fontStyle":"italic","fontSize":56,"align":"left","baseline":"alphabetic","color":"#111111"},"encoding":{"x":{"field":"x","type":"quantitative"},"y":{"field":"y","type":"quantitative","axis":null,"scale":{"domain":[0.5,1.01],"nice":false,"zero":false}},"text":{"field":"t"}}},
{"data":{"name":"eq"},"mark":{"type":"text","font":"Liberation Serif","fontStyle":"italic","fontSize":34,"align":"left","baseline":"alphabetic","color":"#111111"},"encoding":{"x":{"field":"x","type":"quantitative"},"y":{"field":"y","type":"quantitative","axis":null,"scale":{"domain":[0.5,1.01],"nice":false,"zero":false}},"text":{"field":"t"}}},
{"data":{"name":"lhs"},"mark":{"type":"text","font":"Liberation Serif","fontStyle":"italic","fontSize":46,"align":"left","baseline":"alphabetic","color":"#111111"},"encoding":{"x":{"field":"x","type":"quantitative"},"y":{"field":"y","type":"quantitative","axis":null,"scale":{"domain":[0.5,1.01],"nice":false,"zero":false}},"text":{"field":"t"}}},
{"data":{"name":"lsym"},"mark":{"type":"text","font":"DejaVu Serif","fontStyle":"italic","fontSize":48,"align":"left","baseline":"alphabetic","color":"#111111"},"encoding":{"x":{"field":"x","type":"quantitative"},"y":{"field":"y","type":"quantitative","axis":null,"scale":{"domain":[0.5,1.01],"nice":false,"zero":false}},"text":{"field":"t"}}},
{"data":{"name":"slide"},"mark":{"type":"text","font":"Liberation Sans","fontSize":48,"align":"left","baseline":"alphabetic","color":"#2a5a8c"},"encoding":{"x":{"field":"x","type":"quantitative"},"y":{"field":"y","type":"quantitative","axis":null,"scale":{"domain":[0.5,1.01],"nice":false,"zero":false}},"text":{"field":"t"}}},
{"data":{"name":"titleB"},"mark":{"type":"text","font":"Liberation Sans","fontSize":36,"align":"left","baseline":"alphabetic","color":"#1a1a1a"},"encoding":{"x":{"field":"x","type":"quantitative"},"y":{"field":"y","type":"quantitative","axis":null,"scale":{"domain":[0.5,1.01],"nice":false,"zero":false}},"text":{"field":"t"}}},
{"data":{"name":"titleS"},"mark":{"type":"text","font":"Liberation Sans","fontSize":25,"align":"left","baseline":"alphabetic","color":"#1a1a1a"},"encoding":{"x":{"field":"x","type":"quantitative"},"y":{"field":"y","type":"quantitative","axis":null,"scale":{"domain":[0.5,1.01],"nice":false,"zero":false}},"text":{"field":"t"}}},
{"data":{"name":"titleBR"},"mark":{"type":"text","font":"Liberation Sans","fontSize":36,"align":"left","baseline":"alphabetic","angle":270,"color":"#1a1a1a"},"encoding":{"x":{"field":"x","type":"quantitative"},"y":{"field":"y","type":"quantitative","axis":null,"scale":{"domain":[0.5,1.01],"nice":false,"zero":false}},"text":{"field":"t"}}},
{"data":{"name":"titleSR"},"mark":{"type":"text","font":"Liberation Sans","fontSize":25,"align":"left","baseline":"alphabetic","angle":270,"color":"#1a1a1a"},"encoding":{"x":{"field":"x","type":"quantitative"},"y":{"field":"y","type":"quantitative","axis":null,"scale":{"domain":[0.5,1.01],"nice":false,"zero":false}},"text":{"field":"t"}}},
{"data":{"name":"bar"},"mark":{"type":"rect"},"encoding":{"x":{"datum":1.0136,"type":"quantitative"},"x2":{"datum":1.0476},
"y":{"field":"lo","type":"quantitative","scale":{"type":"log","domain":[0.0417,2951],"nice":false},"axis":{"title":null,"orient":"right","offset":33,"values":[0.1,1,10,100,1000],"labelExpr":"datum.value==1?'1':'10'","labelFontSize":29,"labelPadding":17,"labelAlign":"left"}},
"y2":{"field":"hi"},"color":{"field":"v","type":"quantitative","legend":null,"scale":{"type":"threshold","domain":[0.0729,0.1274,0.2226,0.389,0.68,1.189,2.077,3.63,6.35,11.1,19.4,33.9,59.2,103.5,181,316,553,966,1689],"range":["#6a10ee","#3c0cff","#1818ff","#1244ff","#0d86ff","#0cb0ff","#00ffff","#00ffb8","#00ff88","#00ff55","#00ff22","#1aff1f","#62ff20","#9cff20","#e0ff20","#ffee1a","#ffa510","#ff7710","#ff3810","#ff0000"]}}}},
{"data":{"name":"minor"},"mark":{"type":"rule","color":"#000000","strokeWidth":2},"encoding":{"x":{"datum":1.0476,"type":"quantitative"},"x2":{"datum":1.0385},"y":{"field":"t","type":"quantitative","axis":null,"scale":{"type":"log","domain":[0.0417,2951],"nice":false}}}},
{"data":{"name":"major"},"mark":{"type":"rule","color":"#000000","strokeWidth":2},"encoding":{"x":{"datum":1.0476,"type":"quantitative"},"x2":{"datum":1.0295},"y":{"field":"t","type":"quantitative","axis":null,"scale":{"type":"log","domain":[0.0417,2951],"nice":false}}}},
{"data":{"name":"major"},"mark":{"type":"rule","color":"#444444","strokeWidth":2},"encoding":{"x":{"datum":1.0476,"type":"quantitative"},"y":{"datum":0.0417,"type":"quantitative","axis":null,"scale":{"type":"log","domain":[0.0417,2951],"nice":false}},"y2":{"datum":2951}}},
{"data":{"name":"major"},"mark":{"type":"rule","color":"#444444","strokeWidth":2},"encoding":{"x":{"datum":1.0136,"type":"quantitative"},"x2":{"datum":1.0476},"y":{"datum":2951,"type":"quantitative","axis":null,"scale":{"type":"log","domain":[0.0417,2951],"nice":false}}}},
{"data":{"name":"expo"},"mark":{"type":"text","font":"Liberation Sans","fontSize":21,"align":"left","dy":-9,"color":"#1a1a1a"},"encoding":{"x":{"datum":1.1043,"type":"quantitative"},"y":{"field":"t","type":"quantitative","axis":null,"scale":{"type":"log","domain":[0.0417,2951],"nice":false}},"text":{"field":"e"}}}
]}
